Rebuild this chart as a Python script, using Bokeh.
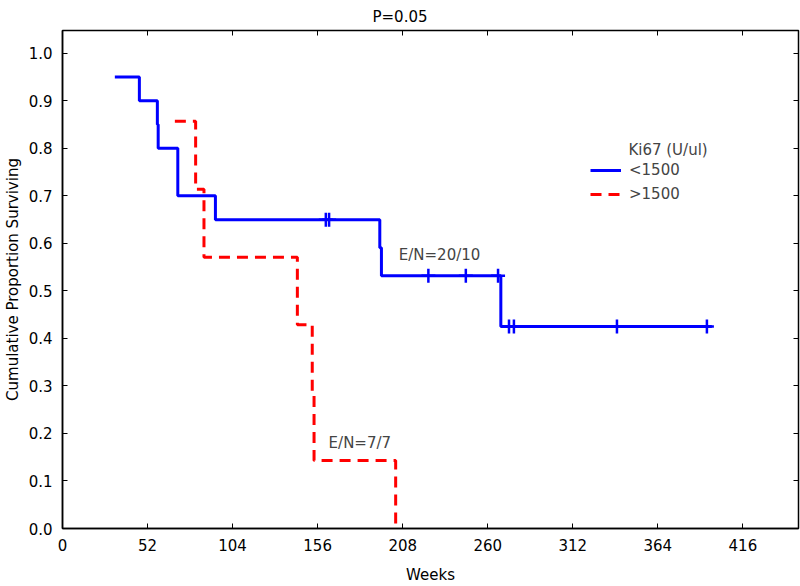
from bokeh.plotting import figure
from bokeh.models import (Label, Legend, LegendItem, LinearAxis, FixedTicker,
                          CustomJSTickFormatter)
from bokeh.embed import file_html
from bokeh.resources import INLINE

# ---- data ----
blue_time = [32, 47, 58, 58.5, 70.5, 93.5, 194, 195, 268, 397]
blue_surv = [0.95, 0.90, 0.85, 0.80, 0.70, 0.65, 0.591, 0.532, 0.425, 0.425]
blue_cens_time = [161, 163, 223.7, 246.6, 266.3, 273, 276, 339, 394]
blue_cens_surv = [0.65, 0.65, 0.532, 0.532, 0.532, 0.425, 0.425, 0.425, 0.425]

red_time = [68.7, 81.4, 86.5, 143.6, 152.7, 153.8, 203.7]
red_surv = [0.857, 0.714, 0.571, 0.429, 0.286, 0.143, 0.0]

x_ticks = [0, 52, 104, 156, 208, 260, 312, 364, 416]
y_ticks = [0.0, 0.1, 0.2, 0.3, 0.4, 0.5, 0.6, 0.7, 0.8, 0.9, 1.0]

series_labels = ["<1500", ">1500"]
legend_title = "Ki67 (U/ul)"
title_text = "P=0.05"
note_blue = "E/N=20/10"
note_red = "E/N=7/7"

FONT = "DejaVu Sans"
FS = "15px"

p = figure(width=800, height=586, x_range=(0, 450), y_range=(0, 1.048),
           output_backend="svg", toolbar_location=None,
           min_border_left=62, min_border_right=2, min_border_top=30,
           min_border_bottom=58)
p.xgrid.visible = False
p.ygrid.visible = False
p.outline_line_color = "black"
p.outline_line_width = 1.5
p.background_fill_color = "white"
p.border_fill_color = "white"

p.title.text = title_text
p.title.text_font = FONT
p.title.text_font_size = FS
p.title.text_font_style = "normal"
p.title.text_color = "black"
p.title.align = "left"
p.title.offset = 310
p.title.standoff = 10

for ax in (p.xaxis[0], p.yaxis[0]):
    ax.major_tick_in = 5
    ax.major_tick_out = 0
    ax.minor_tick_line_color = None
    ax.axis_line_color = "black"
    ax.axis_line_width = 1.5
    ax.major_tick_line_color = "black"
    ax.major_label_text_font = FONT
    ax.major_label_text_font_size = FS
    ax.major_label_text_color = "black"
    ax.axis_label_text_font = FONT
    ax.axis_label_text_font_size = FS
    ax.axis_label_text_font_style = "normal"
    ax.axis_label_text_color = "black"

p.xaxis[0].ticker = FixedTicker(ticks=x_ticks)
p.yaxis[0].ticker = FixedTicker(ticks=y_ticks)
p.yaxis[0].formatter = CustomJSTickFormatter(code="return tick.toFixed(1);")
p.xaxis[0].axis_label = "Weeks"
p.yaxis[0].axis_label = "Cumulative Proportion Surviving"
p.xaxis[0].major_label_standoff = 10
p.xaxis[0].axis_label_standoff = 12
p.yaxis[0].major_label_standoff = 10
p.yaxis[0].axis_label_standoff = 4

# mirror ticks on top and right (no labels)
blank = CustomJSTickFormatter(code="return '';")
top_ax = LinearAxis(ticker=FixedTicker(ticks=x_ticks), major_tick_in=5, major_tick_out=0,
                    minor_tick_line_color=None, formatter=blank,
                    major_label_standoff=0, axis_line_color=None)
right_ax = LinearAxis(ticker=FixedTicker(ticks=y_ticks), major_tick_in=5, major_tick_out=0,
                      minor_tick_line_color=None, formatter=blank,
                      major_label_standoff=0, axis_line_color=None)
p.add_layout(top_ax, "above")
p.add_layout(right_ax, "right")

blue = p.step(blue_time, blue_surv, mode="after", line_color="#0000FF", line_width=3)
red = p.step(red_time, red_surv, mode="after", line_color="#FF0000", line_width=3,
             line_dash="11 7")
p.scatter(blue_cens_time, blue_cens_surv, marker="cross", size=14, line_color="#0000FF",
          line_width=2.5)

legend = Legend(items=[LegendItem(label=series_labels[0], renderers=[blue]),
                       LegendItem(label=series_labels[1], renderers=[red])],
                location=(528, 325), padding=0, margin=0, border_line_color=None,
                background_fill_alpha=0, glyph_width=31, glyph_height=16,
                label_height=16, spacing=6, label_standoff=8,
                label_text_font=FONT, label_text_font_size=FS)
p.add_layout(legend)

p.add_layout(Label(x=346, y=0.796, text=legend_title, text_font=FONT, text_font_size=FS,
                   text_baseline="middle"))
p.add_layout(Label(x=205.6, y=0.575, text=note_blue, text_font=FONT, text_font_size=FS,
                   text_baseline="middle"))
p.add_layout(Label(x=162.7, y=0.179, text=note_red, text_font=FONT, text_font_size=FS,
                   text_baseline="middle"))

open("out.html", "w").write(file_html(p, INLINE))
